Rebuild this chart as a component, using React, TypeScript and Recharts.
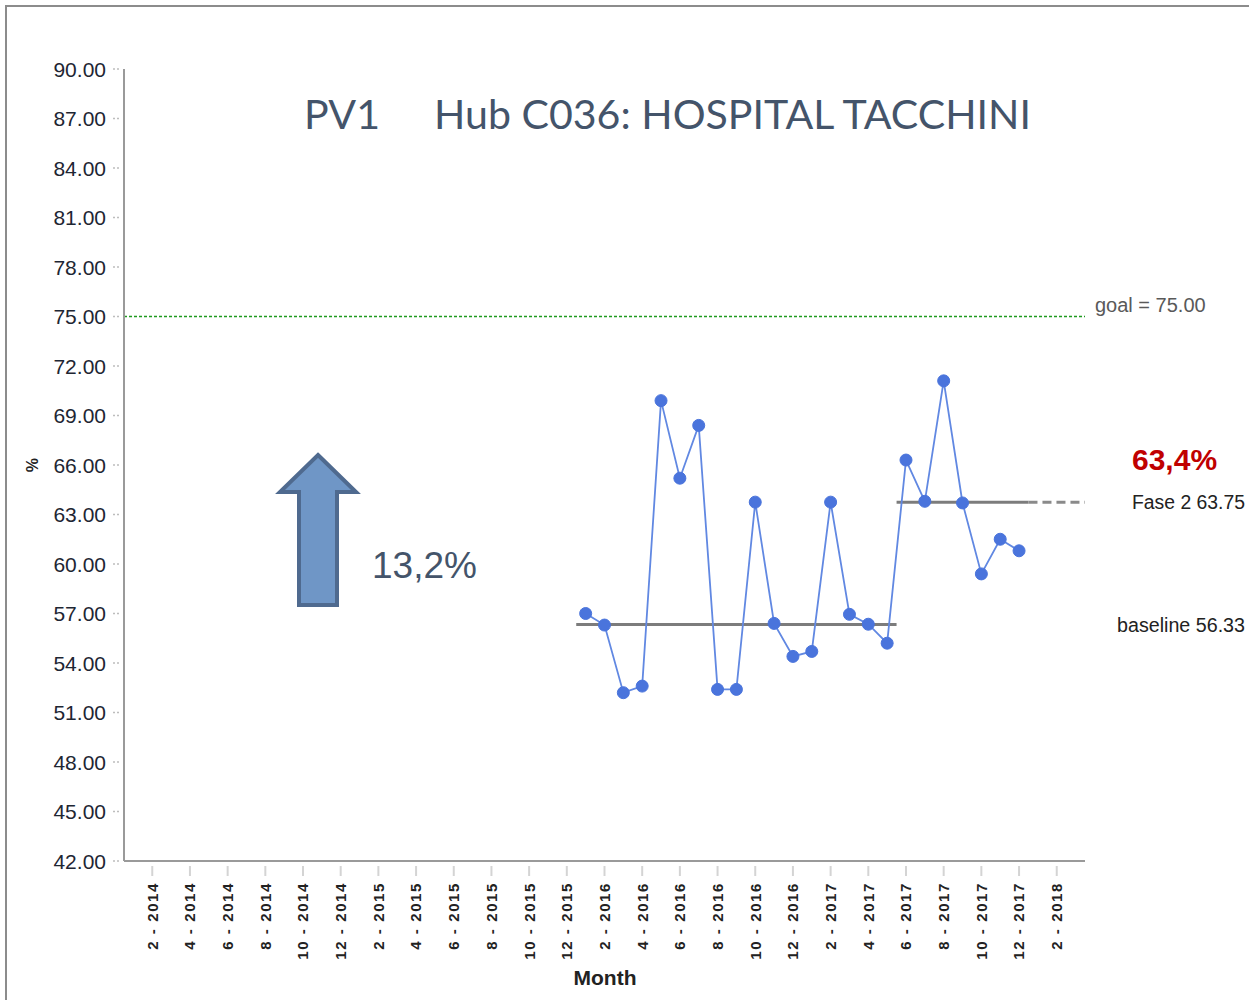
import React from 'react';
import { LineChart, Line, XAxis, YAxis, ReferenceLine, Customized } from 'recharts';

const months = [
  '1 - 2014', '2 - 2014', '3 - 2014', '4 - 2014', '5 - 2014', '6 - 2014', '7 - 2014', '8 - 2014', '9 - 2014', '10 - 2014', '11 - 2014', '12 - 2014',
  '1 - 2015', '2 - 2015', '3 - 2015', '4 - 2015', '5 - 2015', '6 - 2015', '7 - 2015', '8 - 2015', '9 - 2015', '10 - 2015', '11 - 2015', '12 - 2015',
  '1 - 2016', '2 - 2016', '3 - 2016', '4 - 2016', '5 - 2016', '6 - 2016', '7 - 2016', '8 - 2016', '9 - 2016', '10 - 2016', '11 - 2016', '12 - 2016',
  '1 - 2017', '2 - 2017', '3 - 2017', '4 - 2017', '5 - 2017', '6 - 2017', '7 - 2017', '8 - 2017', '9 - 2017', '10 - 2017', '11 - 2017', '12 - 2017',
  '1 - 2018', '2 - 2018', '3 - 2018',
];

const tickMonths = [
  '2 - 2014', '4 - 2014', '6 - 2014', '8 - 2014', '10 - 2014', '12 - 2014',
  '2 - 2015', '4 - 2015', '6 - 2015', '8 - 2015', '10 - 2015', '12 - 2015',
  '2 - 2016', '4 - 2016', '6 - 2016', '8 - 2016', '10 - 2016', '12 - 2016',
  '2 - 2017', '4 - 2017', '6 - 2017', '8 - 2017', '10 - 2017', '12 - 2017',
  '2 - 2018',
];

const pv1Months = [
  '1 - 2016', '2 - 2016', '3 - 2016', '4 - 2016', '5 - 2016', '6 - 2016', '7 - 2016', '8 - 2016', '9 - 2016', '10 - 2016', '11 - 2016', '12 - 2016',
  '1 - 2017', '2 - 2017', '3 - 2017', '4 - 2017', '5 - 2017', '6 - 2017', '7 - 2017', '8 - 2017', '9 - 2017', '10 - 2017', '11 - 2017', '12 - 2017',
];
const pv1Values = [
  57.0, 56.3, 52.2, 52.6, 69.9, 65.2, 68.4, 52.4, 52.4, 63.75, 56.4, 54.4,
  54.7, 63.75, 56.95, 56.35, 55.2, 66.3, 63.8, 71.1, 63.7, 59.4, 61.5, 60.8,
];

const yTicks = [42, 45, 48, 51, 54, 57, 60, 63, 66, 69, 72, 75, 78, 81, 84, 87, 90];

const goalValue = 75;
const goalText = 'goal = 75.00';
const baselineValue = 56.33;
const baselineText = 'baseline 56.33';
const baselineFrom = '1 - 2016';
const baselineTo = '5 - 2017';
const fase2Value = 63.75;
const fase2Text = 'Fase 2 63.75';
const fase2From = '6 - 2017';
const fase2SolidTo = '12 - 2017';
const fase2DashTo = '3 - 2018';
const fase2Result = '63,4%';
const improvementText = '13,2%';
const titleLeft = 'PV1';
const titleRight = 'Hub C036: HOSPITAL TACCHINI';

const idx = (m: string) => months.indexOf(m);
const data = pv1Months.map((m, i) => ({ idx: idx(m), value: pv1Values[i] }));
const xTicks = tickMonths.map(idx);

const BLUE = '#4a74dc';
const FONT = "'Liberation Sans', Arial, sans-serif";

const XTick = (props: any) => {
  const { x, y, payload } = props;
  return (
    <g>
      <line x1={x} x2={x} y1={y + 5} y2={y + 15} stroke="#d4d4d4" strokeWidth={2} />
      <text
        x={x}
        y={y + 21}
        transform={`rotate(-90 ${x} ${y + 21})`}
        textAnchor="end"
        dy="0.36em"
        fontFamily={FONT}
        fontSize={15}
        fontWeight="bold"
        letterSpacing={1.6}
        fill="#222"
      >
        {months[payload.value]}
      </text>
    </g>
  );
};

const YTick = (props: any) => {
  const { x, y, payload } = props;
  return (
    <g>
      <line x1={x - 11} x2={x - 4} y1={y} y2={y} stroke="#bdbdbd" strokeWidth={1.5} strokeDasharray="2 2" />
      <text x={x - 18} y={y} dy="0.36em" textAnchor="end" fontFamily={FONT} fontSize={21} fill="#1e2633">
        {Number(payload.value).toFixed(2)}
      </text>
    </g>
  );
};

const GoalLabel = (props: any) => {
  const vb = props.viewBox || { x: 0, y: 0, width: 0 };
  return (
    <text x={vb.x + vb.width + 10} y={vb.y - 5} fontFamily={FONT} fontSize={20} fill="#595959">
      {goalText}
    </text>
  );
};

const FaseLabel = (props: any) => {
  const vb = props.viewBox || { x: 0, y: 0, width: 0 };
  const x = vb.x + vb.width + 47;
  return (
    <g>
      <text x={x} y={vb.y - 32} fontFamily={FONT} fontSize={30} fontWeight="bold" fill="#c00000">
        {fase2Result}
      </text>
      <text x={x} y={vb.y} dy="0.35em" fontFamily={FONT} fontSize={20} fill="#222" textLength={113} lengthAdjust="spacingAndGlyphs">
        {fase2Text}
      </text>
    </g>
  );
};

const BaselineLabel = (props: any) => {
  const vb = props.viewBox || { x: 0, y: 0, width: 0 };
  return (
    <text x={vb.x + vb.width + 32} y={vb.y} dy="0.35em" fontFamily={FONT} fontSize={20} fill="#222" textLength={128} lengthAdjust="spacingAndGlyphs">
      {baselineText}
    </text>
  );
};

const Annotations = () => {
  const arrow = [
    [318, 455],
    [356, 492],
    [337, 492],
    [337, 605],
    [299, 605],
    [299, 492],
    [280, 492],
  ]
    .map((p) => p.join(','))
    .join(' ');
  return (
    <g>
      <text x={304} y={129} fontFamily="Lato, 'Open Sans', sans-serif" fontSize={40} fill="#44546a" textLength={76} lengthAdjust="spacingAndGlyphs">
        {titleLeft}
      </text>
      <text x={434} y={129} fontFamily="Lato, 'Open Sans', sans-serif" fontSize={40} fill="#44546a" textLength={597} lengthAdjust="spacingAndGlyphs">
        {titleRight}
      </text>
      <polygon points={arrow} fill="#6f96c6" stroke="#4f6a8f" strokeWidth={4} strokeLinejoin="miter" />
      <text x={372} y={578} fontFamily={FONT} fontSize={37} fill="#44546a">
        {improvementText}
      </text>
      <text x={605} y={985} textAnchor="middle" fontFamily={FONT} fontSize={21} fontWeight="bold" fill="#222">
        Month
      </text>
      <text x={32} y={465} textAnchor="middle" transform="rotate(-90 32 465)" dy="0.35em" fontFamily={FONT} fontSize={16} fontWeight="bold" fill="#222">
        %
      </text>
    </g>
  );
};

export default function App() {
  return (
    <div style={{ position: 'absolute', left: 0, top: 0, width: 1249, height: 1000, overflow: 'hidden', background: '#fff' }}>
      <div
        style={{
          position: 'absolute',
          left: 5,
          top: 5,
          width: 1400,
          height: 1200,
          borderLeft: '2px solid #8c8c8c',
          borderTop: '2px solid #8c8c8c',
        }}
      />
      <div style={{ position: 'absolute', left: 0, top: 0 }}>
        <LineChart width={1249} height={1000} data={data} margin={{ top: 69, right: 164, bottom: 0, left: 0 }}>
          <XAxis
            type="number"
            dataKey="idx"
            domain={[-0.5, 50.5]}
            ticks={xTicks}
            interval={0}
            height={139}
            tickSize={0}
            tickMargin={0}
            tickLine={false}
            axisLine={{ stroke: '#9a9a9a', strokeWidth: 2 }}
            tick={<XTick />}
          />
          <YAxis
            type="number"
            domain={[42, 90]}
            ticks={yTicks}
            interval={0}
            width={124}
            tickSize={0}
            tickMargin={0}
            tickLine={false}
            axisLine={{ stroke: '#9a9a9a', strokeWidth: 2 }}
            tick={<YTick />}
          />
          <ReferenceLine y={goalValue} stroke="#1f9a1f" strokeWidth={1.5} strokeDasharray="3 2" label={<GoalLabel />} />
          <ReferenceLine y={fase2Value} stroke="none" label={<FaseLabel />} />
          <ReferenceLine y={baselineValue} stroke="none" label={<BaselineLabel />} />
          <ReferenceLine
            segment={[
              { x: idx(baselineFrom) - 0.5, y: baselineValue },
              { x: idx(baselineTo) + 0.5, y: baselineValue },
            ]}
            stroke="#7c7c7c"
            strokeWidth={3}
          />
          <ReferenceLine
            segment={[
              { x: idx(fase2From) - 0.5, y: fase2Value },
              { x: idx(fase2SolidTo) + 0.5, y: fase2Value },
            ]}
            stroke="#7c7c7c"
            strokeWidth={3}
          />
          <ReferenceLine
            segment={[
              { x: idx(fase2SolidTo) + 0.5, y: fase2Value },
              { x: idx(fase2DashTo) + 0.5, y: fase2Value },
            ]}
            stroke="#8a8a8a"
            strokeWidth={3}
            strokeDasharray="9 5"
          />
          <Line
            type="linear"
            dataKey="value"
            stroke="#6188e2"
            strokeWidth={1.8}
            dot={{ r: 6, fill: BLUE, stroke: BLUE, strokeWidth: 1 }}
            activeDot={false}
            isAnimationActive={false}
          />
          <Customized component={Annotations} />
        </LineChart>
      </div>
    </div>
  );
}
